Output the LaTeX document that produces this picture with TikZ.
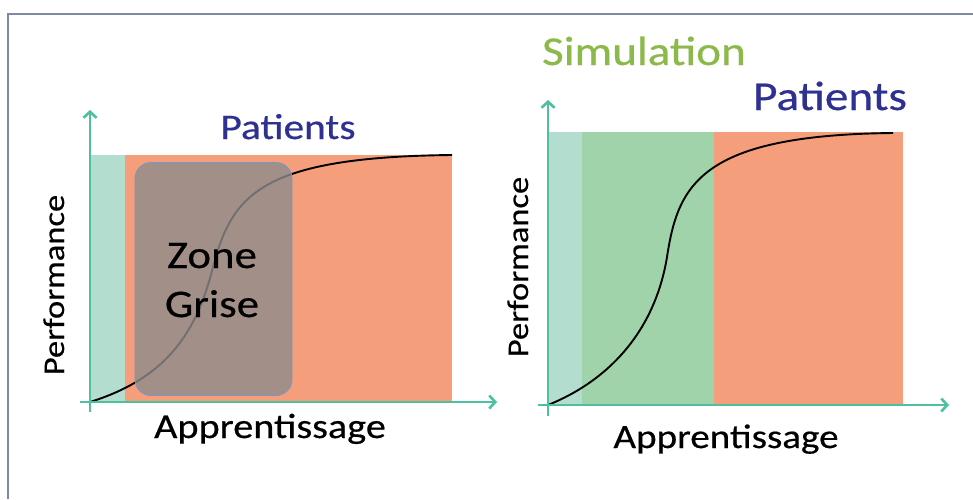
\documentclass[tikz,border=0pt]{standalone}
\usepackage{fontspec}
\setmainfont{Carlito}
\newfontfamily\widefont{Carlito}[FakeStretch=1.15,FakeBold=0.5]
\usetikzlibrary{arrows.meta}
\definecolor{axisc}{RGB}{77,192,160}
\definecolor{lteal}{RGB}{178,221,207}
\definecolor{orangec}{RGB}{245,158,124}
\definecolor{greenc}{RGB}{161,211,171}
\definecolor{navyc}{RGB}{46,49,146}
\definecolor{simc}{RGB}{140,186,74}
\definecolor{framec}{RGB}{128,136,168}
\definecolor{boxedge}{RGB}{120,150,200}
\tikzset{
  axis/.style={draw=axisc, line width=2.6pt, -{Straight Barb[length=6pt,width=13pt,line width=2.6pt]}},
  curve/.style={draw=black, line width=1.9pt},
  txt/.style={inner sep=0pt, anchor=base},
  perf/.style={inner sep=0pt, anchor=base, rotate=90, font=\widefont\fontsize{30}{34}\selectfont},
  title/.style={inner sep=0pt, anchor=base, text=navyc},
}
\begin{document}
\begin{tikzpicture}[x=1pt,y=-1pt]
\useasboundingbox (0,0) rectangle (973,499);
\fill[white] (0,0) rectangle (973,499);
% frame
\draw[framec, line width=1.5pt] (8,499) -- (8,14) -- (973,14);

% ---------- left chart ----------
\fill[lteal] (90,155) rectangle (125,402);
\fill[orangec] (125,155) rectangle (452,402);
\draw[curve] (90,402) .. controls (160,380) and (195,340) .. (213,267)
  .. controls (232,195) and (260,157) .. (452,155);
\node[draw=boxedge, line width=0.8pt, fill={rgb,255:red,140;green,140;blue,140}, fill opacity=0.8, rounded corners=16pt, minimum width=157pt, minimum height=233pt, inner sep=0pt] (zone) at (213.5,279) {};
\node[txt, font=\widefont\fontsize{39}{43}\selectfont] (zone1) at (212,268) {Zone};
\node[txt, font=\widefont\fontsize{39}{43}\selectfont] (zone2) at (212,317) {Grise};
\coordinate (lyb) at (90,412);
\coordinate (lyt) at (90,110);
\coordinate (lxl) at (80,402);
\coordinate (lxr) at (497,402);
\draw[axis] (lyb) -- (lyt);
\draw[axis] (lxl) -- (lxr);
\node[title, font=\widefont\fontsize{36}{40}\selectfont] (pat1) at (288,139) {Patients};
\node[txt, font=\widefont\fontsize{35}{40}\selectfont] (app1) at (270,438) {Apprentissage};
\node[perf] (perf1) at (64,285) {Performance};

% ---------- right chart ----------
\fill[lteal] (548,132) rectangle (582,405);
\fill[greenc] (582,132) rectangle (714,405);
\fill[orangec] (714,132) rectangle (903,405);
\draw[curve] (548,405) .. controls (610,380) and (655,330) .. (667,257)
  .. controls (678,185) and (700,135) .. (893,133);
\coordinate (ryb) at (548,416);
\coordinate (ryt) at (548,100);
\coordinate (rxl) at (538,405);
\coordinate (rxr) at (949,405);
\draw[axis] (ryb) -- (ryt);
\draw[axis] (rxl) -- (rxr);
\node[title, font=\widefont\fontsize{41}{45}\selectfont] (pat2) at (830,110) {Patients};
\node[txt, text=simc, font=\widefont\fontsize{41}{45}\selectfont] (sim) at (644,65) {Simulation};
\node[txt, font=\widefont\fontsize{34}{40}\selectfont] (app2) at (726,448) {Apprentissage};
\node[perf] (perf2) at (528,267) {Performance};
\end{tikzpicture}
\end{document}
